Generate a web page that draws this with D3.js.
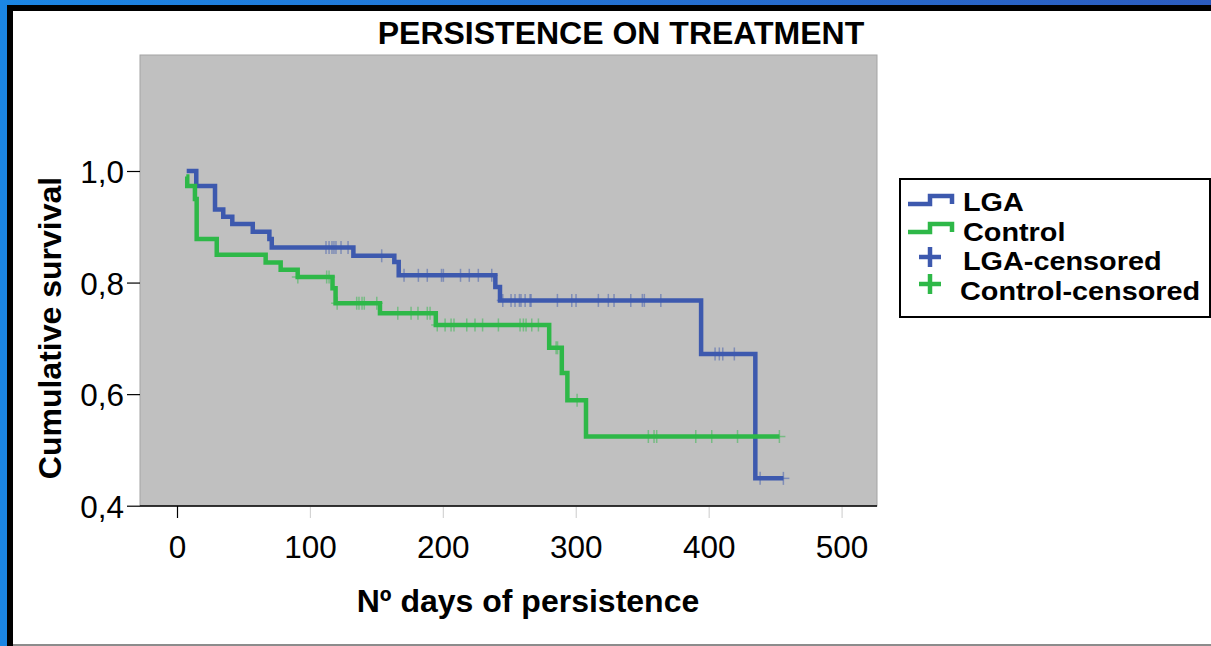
<!DOCTYPE html>
<html><head><meta charset="utf-8">
<script src="https://cdn.jsdelivr.net/npm/d3@7"></script>
<style>
html,body{margin:0;padding:0;overflow:hidden;background:#fff;}
svg{display:block;font-family:"Liberation Sans",Arial,Helvetica,sans-serif;}
</style></head><body>
<svg id="chart" width="1211" height="646"></svg>
<script>
// ---- data ----
const chartTitle = "PERSISTENCE ON TREATMENT";
const xLabel = "Nº days of persistence";
const yLabel = "Cumulative survival";
const legendLabels = ["LGA", "Control", "LGA-censored", "Control-censored"];
const xTicks = [0, 100, 200, 300, 400, 500];
const yTicks = [0.4, 0.6, 0.8, 1.0];

const lgaTimes = [7.3, 14.5, 28.6, 34.8, 41.6, 57.0, 69.5, 71.3, 132.7, 163.5, 166.8, 239.5, 243.0, 394.3, 435.1, 456.2];
const lgaSurv  = [1.000, 0.973, 0.931, 0.918, 0.905, 0.891, 0.878, 0.863, 0.848, 0.837, 0.813, 0.792, 0.768, 0.672, 0.449, 0.449];
const lgaCensored = [112.1, 114.4, 116.6, 118.1, 119.6, 123.4, 128.7, 154.0, 170.8, 181.6, 188.3, 199.0, 200.4, 213.3, 219.9, 226.7, 236.8,
  245.1, 251.3, 254.3, 257.6, 258.8, 261.9, 265.6, 266.4, 286.2, 297.0, 300.2, 317.0, 324.5, 328.8, 341.4, 350.1, 351.6, 364.0,
  404.8, 408.0, 410.6, 419.3, 438.7, 456.2];

const controlTimes = [7.0, 7.7, 13.5, 14.8, 29.9, 66.7, 78.0, 90.8, 117.0, 119.3, 152.7, 194.7, 280.0, 289.5, 293.7, 307.7, 453.2];
const controlSurv  = [0.990, 0.973, 0.950, 0.878, 0.850, 0.836, 0.823, 0.810, 0.790, 0.763, 0.745, 0.724, 0.683, 0.638, 0.589, 0.524, 0.524];
const controlCensored = [90.9, 112.6, 114.4, 120.5, 135.2, 136.9, 139.2, 140.9, 150.3, 166.1, 176.1, 181.3, 188.3, 190.4,
  195.8, 201.7, 206.2, 208.4, 218.0, 224.2, 229.9, 241.8, 258.1, 260.6, 262.6, 266.9, 271.9, 285.2, 286.3, 301.0,
  354.6, 358.9, 360.9, 390.3, 402.3, 421.7, 453.2];

const colLGA = "#3d59ae";
const colControl = "#2eb848";

// ---- layout ----
const W = 1211, H = 646;
const plot = {left: 140, top: 55, right: 877, bottom: 506};
const svg = d3.select("#chart");

const defs = svg.append("defs");
const grad = defs.append("linearGradient").attr("id", "bg").attr("x1", "0").attr("x2", "1").attr("y1", "0").attr("y2", "0");
grad.append("stop").attr("offset", "0").attr("stop-color", "#1b86e4");
grad.append("stop").attr("offset", "1").attr("stop-color", "#2c5cbf");

svg.append("rect").attr("width", W).attr("height", H).attr("fill", "url(#bg)");
svg.append("rect").attr("x", 7).attr("y", 5).attr("width", W - 7).attr("height", H - 5).attr("fill", "#000");
svg.append("rect").attr("x", 13).attr("y", 11).attr("width", W - 13).attr("height", 633).attr("fill", "#fff");
svg.append("rect").attr("x", 13).attr("y", 644).attr("width", W - 13).attr("height", 2).attr("fill", "#8c8c8c");

// plot background
svg.append("rect").attr("x", plot.left).attr("y", plot.top)
  .attr("width", plot.right - plot.left).attr("height", plot.bottom - plot.top)
  .attr("fill", "#c0c0c0").attr("stroke", "#a4a4a4").attr("stroke-width", 1);

const x = d3.scaleLinear().domain([0, 500]).range([177, 841.6]);
const y = d3.scaleLinear().domain([0.4, 1.0]).range([505.7, 171]);

// axes
const yAxis = svg.append("g").attr("transform", `translate(${plot.left},0)`)
  .call(d3.axisLeft(y).tickValues(yTicks).tickSize(13).tickPadding(3)
    .tickFormat(d => d3.format(".1f")(d).replace(".", ",")));
yAxis.select(".domain").remove();
yAxis.selectAll("line").attr("stroke", "#000").attr("stroke-width", 1.2);
yAxis.selectAll("text").attr("font-size", 31.5).attr("fill", "#000").attr("dy", "0.37em")
  .attr("font-family", "'Liberation Sans',Arial,sans-serif");

const xAxis = svg.append("g").attr("transform", `translate(0,${plot.bottom})`)
  .call(d3.axisBottom(x).tickValues(xTicks).tickSize(12).tickPadding(18).tickFormat(d3.format("d")));
xAxis.select(".domain").remove();
xAxis.selectAll("line").attr("stroke", d => d === 0 ? "#000" : "#d4d4d4").attr("stroke-width", 1.2);
xAxis.selectAll("text").attr("font-size", 31.5).attr("fill", "#000")
  .attr("font-family", "'Liberation Sans',Arial,sans-serif");

svg.append("line").attr("x1", plot.left).attr("x2", plot.right)
  .attr("y1", plot.bottom).attr("y2", plot.bottom).attr("stroke", "#000").attr("stroke-width", 1.5);

// survival step function helper
function survAt(times, surv, t) {
  let s = surv[0];
  for (let i = 0; i < times.length; i++) if (times[i] <= t + 1e-9) s = surv[i];
  return s;
}

const line = d3.line().x(d => x(d.t)).y(d => y(d.s)).curve(d3.curveStepAfter);

function drawSeries(times, surv, censored, color) {
  const g = svg.append("g");
  const cg = g.append("g").attr("stroke", color).attr("stroke-opacity", 0.5).attr("stroke-width", 1.5);
  censored.forEach(t => {
    const cx = x(t), cy = y(survAt(times, surv, t));
    cg.append("line").attr("x1", cx).attr("x2", cx).attr("y1", cy - 6.5).attr("y2", cy + 6.5);
    cg.append("line").attr("x1", cx - 6).attr("x2", cx + 6).attr("y1", cy).attr("y2", cy);
  });
  const pts = times.map((t, i) => ({t: t, s: surv[i]}));
  g.append("path").datum(pts).attr("d", line).attr("fill", "none")
    .attr("stroke", color).attr("stroke-width", 4.5)
    .attr("stroke-linejoin", "miter").attr("stroke-linecap", "butt");
}
drawSeries(lgaTimes, lgaSurv, lgaCensored, colLGA);
drawSeries(controlTimes, controlSurv, controlCensored, colControl);

// titles
svg.append("text").attr("x", 621).attr("y", 44).attr("text-anchor", "middle")
  .attr("font-size", 32).attr("font-weight", "bold").text(chartTitle);
svg.append("text").attr("x", 528).attr("y", 612).attr("text-anchor", "middle")
  .attr("font-size", 32).attr("font-weight", "bold").text(xLabel);
svg.append("text").attr("transform", "translate(61,328) rotate(-90)").attr("text-anchor", "middle")
  .attr("font-size", 32).attr("font-weight", "bold").text(yLabel);

// legend
const lg = svg.append("g");
lg.append("rect").attr("x", 900).attr("y", 179).attr("width", 310).attr("height", 138)
  .attr("fill", "#fff").attr("stroke", "#000").attr("stroke-width", 2);
function stepSym(yLow, color) {
  const p = d3.path();
  p.moveTo(908, yLow); p.lineTo(930, yLow); p.lineTo(930, yLow - 8); p.lineTo(952, yLow - 8); p.lineTo(952, yLow);
  lg.append("path").attr("d", p.toString()).attr("fill", "none").attr("stroke", color)
    .attr("stroke-width", 4.5).attr("stroke-linejoin", "miter");
}
function plusSym(cx, cy, color) {
  lg.append("line").attr("x1", cx - 11).attr("x2", cx + 11).attr("y1", cy).attr("y2", cy)
    .attr("stroke", color).attr("stroke-width", 4.5);
  lg.append("line").attr("x1", cx).attr("x2", cx).attr("y1", cy - 10).attr("y2", cy + 10)
    .attr("stroke", color).attr("stroke-width", 4.5);
}
stepSym(204, colLGA);
stepSym(232, colControl);
plusSym(930, 257, colLGA);
plusSym(930, 284, colControl);
const legX = [963, 963, 963, 960];
const legY = [211, 240.5, 270, 299.5];
legendLabels.forEach((l, i) => {
  lg.append("text").attr("transform", `translate(${legX[i]},${legY[i]}) scale(1.1,1)`)
    .attr("font-size", 26.2)
    .attr("font-weight", "bold").attr("fill", "#000").text(l);
});
</script>
</body></html>
